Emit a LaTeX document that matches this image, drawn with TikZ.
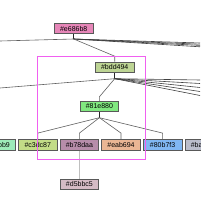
\documentclass[tikz,border=0pt]{standalone}
\usepackage{fontspec}
\setmainfont{Liberation Sans}
\usetikzlibrary{positioning, calc}
\usepackage{xcolor}
\definecolor{cgrand}{HTML}{E686B8}
\definecolor{cparent}{HTML}{BDD494}
\definecolor{chub}{HTML}{81E880}
\definecolor{cmint}{HTML}{9DEBB9}
\definecolor{clime}{HTML}{C3DC87}
\definecolor{cmauve}{HTML}{B78DAA}
\definecolor{cpeach}{HTML}{EAB694}
\definecolor{cblue}{HTML}{80B7F3}
\definecolor{cslate}{HTML}{BABDCB}
\definecolor{cleaf}{HTML}{D5BBC5}
\definecolor{groupline}{HTML}{F060F0}
\tikzset{
  box/.style={draw=gray!70!black, line width=0.6pt, inner sep=0pt,
              minimum width=38.5pt, minimum height=10.4pt,
              font=\fontsize{7}{8}\selectfont},
  kid/.style={box, minimum height=11.2pt},
  link/.style={draw=gray!75!black, line width=0.6pt},
  trunk/.style={draw=black!85, line width=0.9pt},
  fan/.style={draw=black!75, line width=0.6pt},
  leafline/.style={draw=gray!50, line width=1.8pt},
  group/.style={draw=groupline, line width=0.7pt},
}

\begin{document}
\begin{tikzpicture}[x=1pt, y=-1pt, node distance=2.5pt]
\useasboundingbox (0,0) rectangle (200,200);

%% ====================  UPPER LEVELS  ====================

\node[box, fill=cgrand] (grand) at (73.7,28.5) {\#e686b8};
\node[box, fill=cparent] (parent) at (114.7,67.2) {\#bdd494};
\node[box, fill=chub, minimum height=9.8pt] (hub) at (99.4,106.5) {\#81e880};

%% ====================  CHILD ROW  ====================

\node[kid, fill=clime] (k_clime) at (37.8,145) {\#c3dc87};
\node[kid, fill=cmint, left=of k_clime] (k_mint) {\#9debb9};
\node[kid, fill=cmauve, right=of k_clime] (k_mauve) {\#b78daa};
\node[kid, fill=cpeach, right=of k_mauve] (k_peach) {\#eab694};
\node[kid, fill=cblue, right=of k_peach] (k_blue) {\#80b7f3};
\node[kid, fill=cslate, right=of k_blue] (k_slate) {\#babdcb};

\node[box, fill=cleaf, below=27.6pt of k_mauve] (leaf) {\#d5bbc5};

%% ====================  JUNCTIONS  ====================

\coordinate (grand_j) at ($(grand.south)+(0,5)$);
\coordinate (parent_j) at ($(parent.south)+(0,6)$);
\coordinate (hub_j) at ($(hub.south)+(0,6)$);

%% off-picture ends
\coordinate (off_gl) at (0,41);
\coordinate (off_pl) at (0,88);

%% ====================  EDGES  ====================

%% e686b8
\draw[trunk] (grand.south) -- (grand_j);
\draw[link] (grand_j) -- (off_gl);
\foreach \yy in {43,44.2,45.4,46.8} {
  \draw[fan] (grand_j) -- (200,\yy);
}
\draw[link] (grand_j) -- ($(parent.north)+(0,-5.5)$) -- (parent.north);

%% bdd494
\draw[trunk] (parent.south) -- (parent_j);
\draw[link] (parent_j) -- (off_pl);
\foreach \yy in {80,83.5,87.5,91.5,95.5} {
  \draw[fan] (parent_j) -- (200,\yy);
}
\draw[link] (parent_j) -- ($(hub.north)+(0,-4.5)$) -- (hub.north);

%% 81e880
\draw[trunk] (hub.south) -- (hub_j);
\foreach \kk in {k_clime, k_mauve, k_peach, k_blue} {
  \draw[link] (hub_j) -- ($(\kk.north)+(0,-6)$) -- (\kk.north);
}

%% b78daa
\draw[leafline] (k_mauve.south) -- (leaf.north);

%% ====================  GROUP FRAME  ====================

\draw[group] (37.5,56.5) rectangle (145.5,159.5);

\end{tikzpicture}
\end{document}
